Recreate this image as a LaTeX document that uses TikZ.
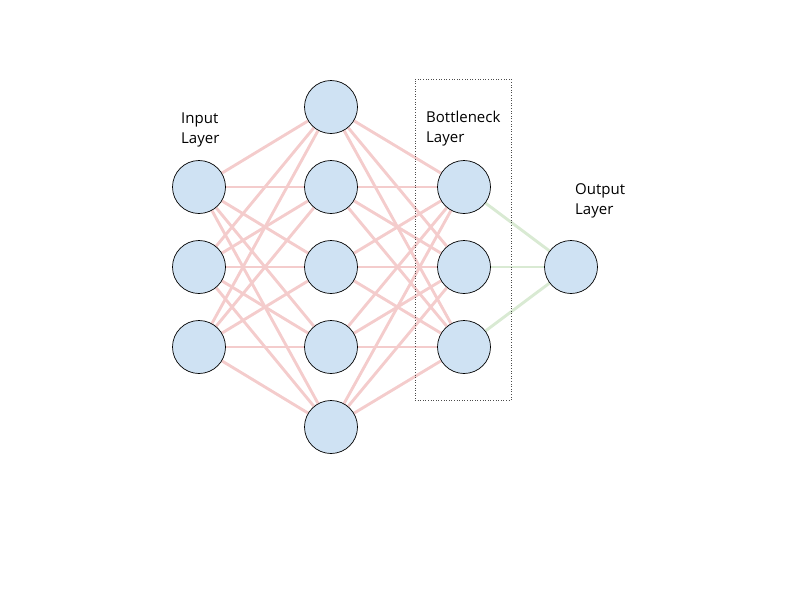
\documentclass[tikz,border=0pt]{standalone}
\usepackage{fontspec}
\setmainfont{Open Sans}
\usetikzlibrary{backgrounds}
\begin{document}
\begin{tikzpicture}[x=1pt,y=-1pt,
  neuron/.style={circle,draw=black,line width=0.7pt,fill=nodefill,minimum size=53pt,inner sep=0pt},
  redge/.style={draw=edgered,line width=2.9pt},
  gedge/.style={draw=edgegreen,line width=2.9pt},
  lbl/.style={align=left,anchor=north west,font=\fontsize{15}{19.5}\selectfont,inner sep=0pt}]
\definecolor{nodefill}{RGB}{207,226,243}
\definecolor{edgered}{RGB}{244,204,204}
\definecolor{edgegreen}{RGB}{217,234,211}
\useasboundingbox (0,0) rectangle (800,600);
\foreach \i/\y in {1/187,2/267,3/347} \node[neuron] (i\i) at (199,\y) {};
\foreach \i/\y in {1/107,2/187,3/267,4/347,5/427} \node[neuron] (h\i) at (331,\y) {};
\foreach \i/\y in {1/187,2/267,3/347} \node[neuron] (b\i) at (464,\y) {};
\node[neuron] (o) at (571,267) {};
\begin{scope}[on background layer]
\foreach \a in {1,2,3} \foreach \b in {1,...,5} \draw[redge] (i\a) -- (h\b);
\foreach \a in {1,...,5} \foreach \b in {1,2,3} \draw[redge] (h\a) -- (b\b);
\foreach \a in {1,2,3} \draw[gedge] (b\a) -- (o);
\end{scope}
\node[draw=black!70,dotted,line width=0.6pt,minimum width=96pt,minimum height=321pt,inner sep=0pt] (box) at (463,239.5) {};
\node[lbl] (tin) at (181,113) {Input\\Layer};
\node[lbl] (tbn) at (426,111) {Bottleneck\\Layer};
\node[lbl] (tout) at (575,183.5) {Output\\Layer};
\end{tikzpicture}
\end{document}
